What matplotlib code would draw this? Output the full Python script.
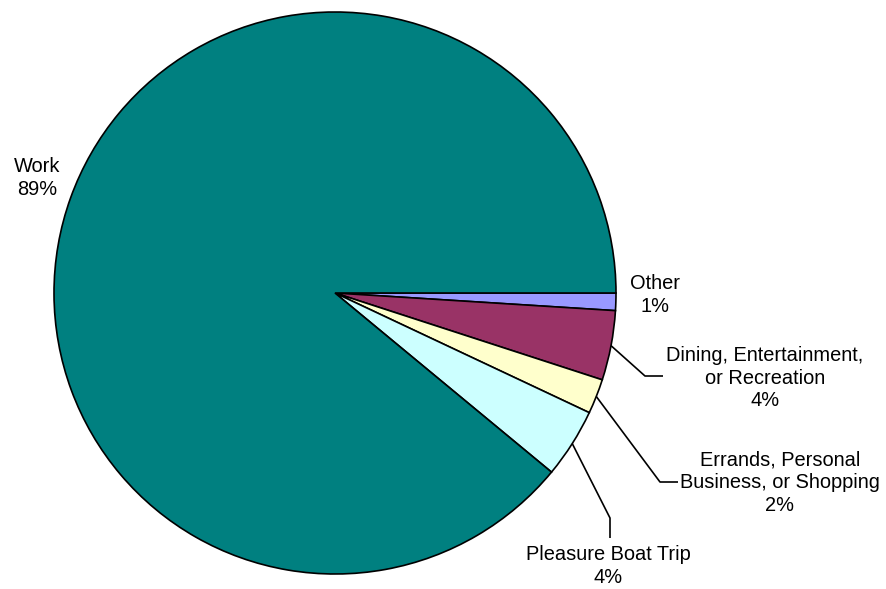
import matplotlib.pyplot as plt
import numpy as np

# Trip purpose shares (percent), clockwise from 3 o'clock
labels = ["Other", "Dining, Entertainment,\nor Recreation",
          "Errands, Personal\nBusiness, or Shopping",
          "Pleasure Boat Trip", "Work"]
values = [1, 4, 2, 4, 89]
colors = ["#9999FF", "#993366", "#FFFFCC", "#CCFFFF", "#008080"]

W, H = 887, 589
CX, CY, R = 335, H - 293, 281

plt.rcParams['font.family'] = ['Liberation Sans', 'DejaVu Sans']

fig = plt.figure(figsize=(W / 100, H / 100), dpi=100)
ax = fig.add_axes([0, 0, 1, 1])

wedges, _ = ax.pie(values, colors=colors, startangle=0, counterclock=False,
                   center=(CX, CY), radius=R,
                   wedgeprops=dict(edgecolor='black', linewidth=1.2))

# pie() resets the limits, so fix the pixel-sized frame afterwards
ax.set_xlim(0, W)
ax.set_ylim(0, H)
ax.set_aspect('equal')
ax.axis('off')

# label placement: (text centre in px from top-left, leader elbow points)
layout = {
    0: dict(xy=(655, 295), leader=None),
    1: dict(xy=(765, 378), leader=[(645, 376), (663, 376)]),
    2: dict(xy=(780, 483), leader=[(660, 482), (678, 482)]),
    3: dict(xy=(608, 566), leader=[(610, 518), (610, 538)]),
    4: dict(xy=(37, 178), leader=None),
}

for i, w in enumerate(wedges):
    txt = f"{labels[i]}\n{values[i]}%"
    lx, ly = layout[i]['xy']
    ax.text(lx, H - ly, txt, ha='center', va='center', fontsize=14.4,
            linespacing=1.25, color='black')
    pts = layout[i]['leader']
    if pts:
        mid = np.deg2rad((w.theta1 + w.theta2) / 2)
        sx, sy = CX + R * np.cos(mid), CY + R * np.sin(mid)
        xs = [sx] + [p[0] for p in pts]
        ys = [sy] + [H - p[1] for p in pts]
        ax.plot(xs, ys, color='black', linewidth=1.2, solid_capstyle='butt')

fig.savefig('out.png', dpi=100, facecolor='white')
